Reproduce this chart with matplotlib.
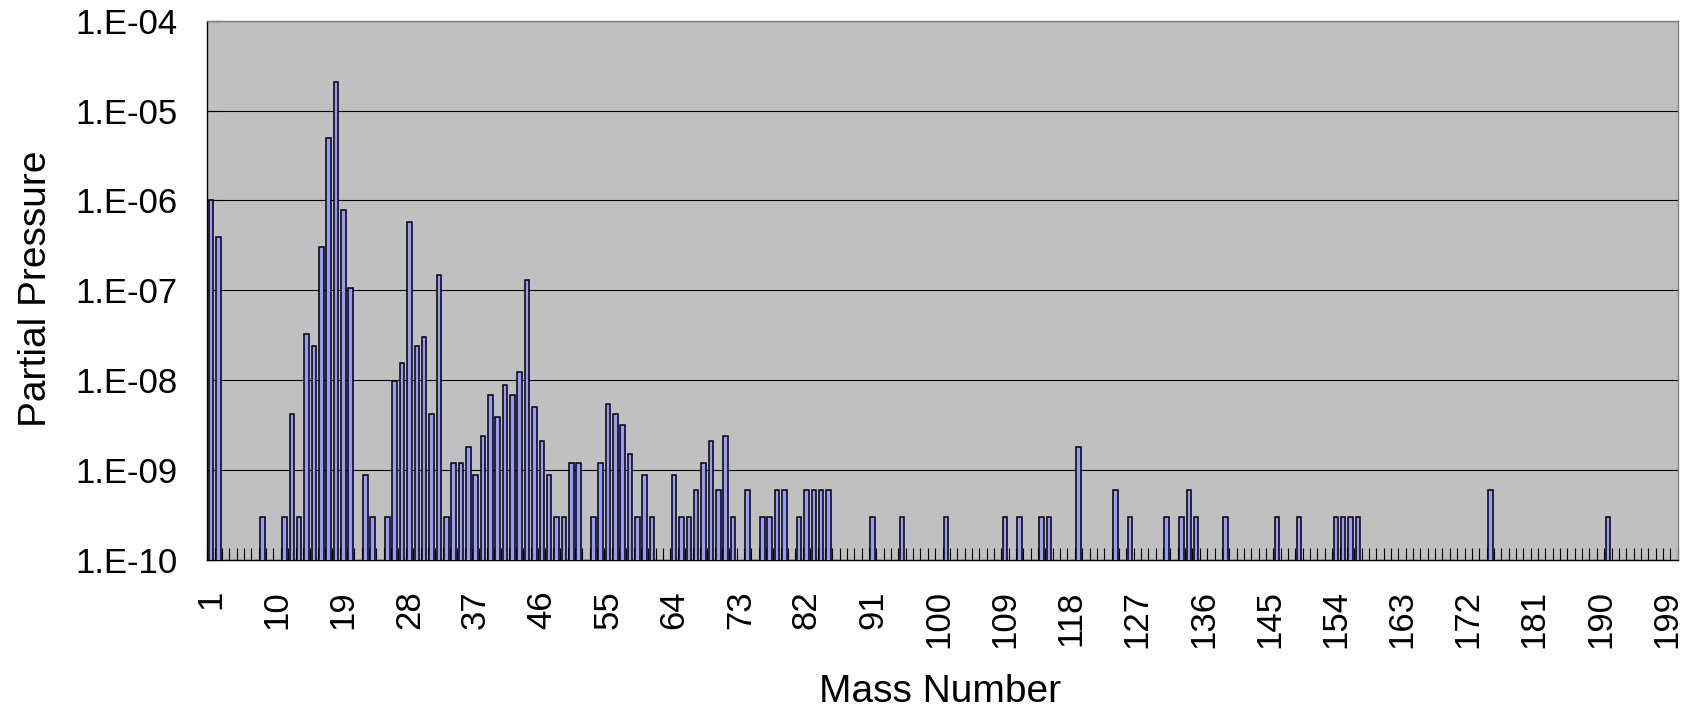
import matplotlib
matplotlib.use('Agg')
import matplotlib.pyplot as plt
import matplotlib.ticker as mticker
import numpy as np

# mass numbers that show a peak, and their partial pressures
masses = [1, 2, 8, 11, 12, 13, 14, 15, 16, 17, 18, 19, 20, 22, 23, 25, 26, 27, 28, 29,
          30, 31, 32, 33, 34, 35, 36, 37, 38, 39, 40, 41, 42, 43, 44, 45, 46, 47, 48, 49,
          50, 51, 53, 54, 55, 56, 57, 58, 59, 60, 61, 64, 65, 66, 67, 68, 69, 70, 71, 72,
          74, 76, 77, 78, 79, 81, 82, 83, 84, 85, 91, 95, 101, 109, 111, 114, 115, 119,
          124, 126, 131, 133, 134, 135, 139, 146, 149, 154, 155, 156, 157, 175, 191]
pressures = [1.0e-6, 3.9e-7, 3e-10, 3e-10, 4.2e-9, 3e-10, 3.3e-8, 2.4e-8, 3.0e-7, 4.9e-6,
             2.1e-5, 7.9e-7, 1.06e-7, 8.9e-10, 3e-10, 3e-10, 9.7e-9, 1.55e-8, 5.8e-7, 2.4e-8,
             3.0e-8, 4.2e-9, 1.5e-7, 3e-10, 1.2e-9, 1.2e-9, 1.8e-9, 8.8e-10, 2.4e-9, 6.8e-9,
             3.9e-9, 8.8e-9, 6.8e-9, 1.25e-8, 1.3e-7, 5.0e-9, 2.1e-9, 8.8e-10, 3e-10, 3e-10,
             1.2e-9, 1.2e-9, 3e-10, 1.2e-9, 5.4e-9, 4.2e-9, 3.2e-9, 1.5e-9, 3e-10, 8.8e-10,
             3e-10, 8.8e-10, 3e-10, 3e-10, 6e-10, 1.2e-9, 2.1e-9, 6e-10, 2.4e-9, 3e-10,
             6e-10, 3e-10, 3e-10, 6e-10, 6e-10, 3e-10, 6e-10, 6e-10, 6e-10, 6e-10,
             3e-10, 3e-10, 3e-10, 3e-10, 3e-10, 3e-10, 3e-10, 1.8e-9,
             6e-10, 3e-10, 3e-10, 3e-10, 6e-10, 3e-10, 3e-10, 3e-10, 3e-10, 3e-10, 3e-10,
             3e-10, 3e-10, 6e-10, 3e-10]
categories = list(range(1, 201))
tick_labels = list(range(1, 200, 9))

plt.rcParams['font.family'] = ['Liberation Sans', 'DejaVu Sans']

fig = plt.figure(figsize=(16.95, 7.07), dpi=100)
ax = fig.add_axes([0.1223, 0.2079, 0.9898 - 0.1223, 0.9707 - 0.2079])
ax.set_facecolor('#C0C0C0')

# log axis: bars start at zero and get clipped at the bottom of the axis
ax.bar(masses, pressures, width=0.62, color='#9999FF',
       edgecolor='black', linewidth=1.1, zorder=3)

ax.set_yscale('log')
ax.set_ylim(1e-10, 1e-4)
ax.set_xlim(categories[0] - 0.5, categories[-1] + 0.5)

ax.yaxis.set_major_locator(mticker.LogLocator(base=10, numticks=10))
ax.yaxis.set_minor_locator(mticker.NullLocator())
ax.yaxis.set_major_formatter(mticker.FuncFormatter(
    lambda v, p: '1.E-%02d' % round(-np.log10(v))))
ax.grid(axis='y', color='black', linewidth=0.8, zorder=1)
ax.set_axisbelow(True)

ax.set_xticks(tick_labels)
ax.set_xticklabels([str(t) for t in tick_labels], rotation=90)
ax.set_xticks(np.arange(categories[0] - 0.5, categories[-1] + 1), minor=True)

ax.tick_params(axis='y', which='major', direction='in', length=9, width=0.8,
               labelsize=25, pad=21.6)
ax.tick_params(axis='x', which='major', length=0, labelsize=25, pad=21.6)
ax.tick_params(axis='x', which='minor', direction='in', length=9, width=0.8)

for side in ['left', 'bottom']:
    ax.spines[side].set_color('black')
    ax.spines[side].set_linewidth(1.0)
for side in ['top', 'right']:
    ax.spines[side].set_color('#808080')
    ax.spines[side].set_linewidth(1.0)

fig.text(0.0212, 0.5912, 'Partial Pressure', rotation=90, ha='center', va='center',
         fontsize=28)
fig.text(0.5546, 0.0071, 'Mass Number', ha='center', va='baseline', fontsize=28)

fig.savefig('out.png', dpi=100)
